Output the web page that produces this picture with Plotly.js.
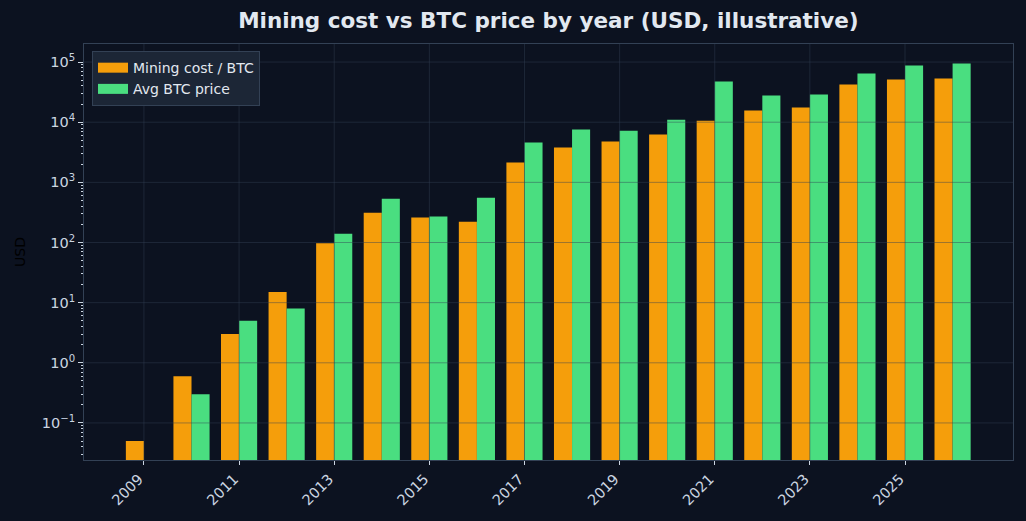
<!DOCTYPE html>
<html>
<head>
<meta charset="utf-8">
<script src="https://cdn.plot.ly/plotly-3.0.1.min.js"></script>
<style>
  html, body { margin: 0; padding: 0; background: #0c1220; }
  #chart { width: 1026px; height: 521px; }
</style>
</head>
<body>
<div id="chart"></div>
<script>
// Yearly figures (USD)
const years = [2009, 2010, 2011, 2012, 2013, 2014, 2015, 2016, 2017,
               2018, 2019, 2020, 2021, 2022, 2023, 2024, 2025, 2026];
const miningCost = [0.05, 0.6, 3, 15, 97, 313, 260, 222, 2130,
                    3780, 4760, 6220, 10600, 15600, 17500, 42300, 51200, 53100];
const avgPrice = [null, 0.3, 5, 8, 140, 535, 270, 556, 4590,
                  7530, 7240, 11000, 47400, 27700, 28800, 64500, 87500, 94400];

const seriesNames = ['Mining cost / BTC', 'Avg BTC price'];
const seriesColors = ['#f59e0b', '#4ade80'];

const xTickYears = [2009, 2011, 2013, 2015, 2017, 2019, 2021, 2023, 2025];
const yExponents = [-1, 0, 1, 2, 3, 4, 5];

const yTickVals = yExponents.map(e => Math.pow(10, e));
const yTickText = yExponents.map(e => '10<sup>' + (e < 0 ? '\u2212' + (-e) : e) + '</sup>');

// minor ticks 2..9 x 10^k on the log axis
const yMinor = [];
for (let e = -2; e <= 5; e++) {
  for (let m = 2; m <= 9; m++) yMinor.push(m * Math.pow(10, e));
}

const gridColor = 'rgba(51,65,85,0.45)';
const tickColor = '#cbd5e1';

// grid drawn over the bars
const gridShapes = [];
xTickYears.forEach(v => gridShapes.push({
  type: 'line', layer: 'above', xref: 'x', yref: 'paper',
  x0: v, x1: v, y0: 0, y1: 1, line: { color: gridColor, width: 1 }
}));
yTickVals.forEach(v => gridShapes.push({
  type: 'line', layer: 'above', xref: 'paper', yref: 'y',
  x0: 0, x1: 1, y0: v, y1: v, line: { color: gridColor, width: 1 }
}));

const traces = [
  { type: 'bar', name: seriesNames[0], x: years, y: miningCost, showlegend: false,
    marker: { color: seriesColors[0], line: { width: 0 } } },
  { type: 'bar', name: seriesNames[1], x: years, y: avgPrice, showlegend: false,
    marker: { color: seriesColors[1], line: { width: 0 } } },
  // legend keys as wide colour patches
  { type: 'scatter', mode: 'lines', name: seriesNames[0], x: [null], y: [null],
    line: { color: seriesColors[0], width: 10 }, hoverinfo: 'skip' },
  { type: 'scatter', mode: 'lines', name: seriesNames[1], x: [null], y: [null],
    line: { color: seriesColors[1], width: 10 }, hoverinfo: 'skip' }
];

const layout = {
  width: 1026, height: 521,
  paper_bgcolor: '#0c1220', plot_bgcolor: '#0c1220',
  font: { family: 'DejaVu Sans, sans-serif', color: tickColor, size: 14 },
  margin: { l: 84, r: 13, t: 44, b: 61 },
  title: {
    text: '<b>Mining cost vs BTC price by year (USD, illustrative)</b>',
    font: { family: 'DejaVu Sans, sans-serif', size: 21.5, color: '#e2e8f0' },
    x: 0.5345, xanchor: 'center', y: 0.96, yanchor: 'middle'
  },
  barmode: 'group', bargap: 0.24, bargroupgap: 0,
  showlegend: true,
  legend: {
    x: 0.0086, y: 0.983, xanchor: 'left', yanchor: 'top',
    bgcolor: '#1c2636', bordercolor: '#334155', borderwidth: 1,
    font: { color: '#e2e8f0', size: 14 },
    tracegroupgap: 0
  },
  xaxis: {
    range: [2007.74, 2027.27],
    tickmode: 'array', tickvals: xTickYears, ticktext: xTickYears.map(String),
    tickangle: -45, ticks: 'outside', ticklen: 4, tickcolor: tickColor,
    tickfont: { color: tickColor, size: 14.5 }, ticklabelshift: -5,
    showgrid: false, zeroline: false,
    showline: true, mirror: true, linecolor: '#334155', linewidth: 1
  },
  yaxis: {
    type: 'log', range: [-1.616, 5.3],
    tickmode: 'array', tickvals: yTickVals, ticktext: yTickText,
    ticks: 'outside', ticklen: 5, tickcolor: tickColor,
    tickfont: { color: tickColor, size: 14.5 },
    minor: { tickmode: 'array', tickvals: yMinor, ticks: 'outside', ticklen: 2.5, tickcolor: tickColor, showgrid: false },
    showgrid: false, zeroline: false,
    showline: true, mirror: true, linecolor: '#334155', linewidth: 1,
    title: { text: 'USD', font: { color: '#000000', size: 14 }, standoff: 12 }
  },
  shapes: gridShapes
};

Plotly.newPlot('chart', traces, layout, { displayModeBar: false, staticPlot: true });
</script>
</body>
</html>
